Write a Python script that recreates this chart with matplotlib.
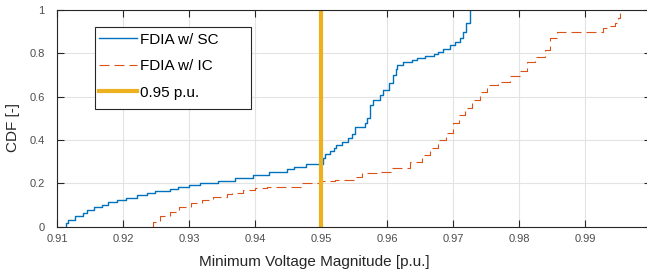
import matplotlib
matplotlib.use('Agg')
import matplotlib.pyplot as plt
from matplotlib.patches import Rectangle

plt.rcParams['font.family'] = ['Liberation Sans', 'DejaVu Sans']

sc_v = [0.9113, 0.9113, 0.9116, 0.9127, 0.9139, 0.9145, 0.9155, 0.9167, 0.9177,
        0.9190, 0.9204, 0.9220, 0.9236, 0.9248, 0.9271, 0.9283, 0.9299, 0.9316,
        0.9344, 0.9369, 0.9397, 0.9421, 0.9448, 0.9459, 0.9477, 0.9503, 0.9505,
        0.9513, 0.9519, 0.9523, 0.9531, 0.9541, 0.9546, 0.9551, 0.9566, 0.9569,
        0.9574, 0.9579, 0.9589, 0.9594, 0.9602, 0.9609, 0.9613, 0.9615, 0.9624,
        0.9637, 0.9645, 0.9657, 0.9670, 0.9677, 0.9685, 0.9695, 0.9703, 0.9710,
        0.9715, 0.9719, 0.9725]
sc_cdf = [0.0, 0.016, 0.031, 0.051, 0.062, 0.076, 0.092, 0.100, 0.113,
          0.123, 0.134, 0.145, 0.157, 0.166, 0.175, 0.185, 0.192, 0.200,
          0.211, 0.226, 0.239, 0.254, 0.266, 0.274, 0.291, 0.316, 0.334,
          0.351, 0.362, 0.377, 0.392, 0.411, 0.430, 0.459, 0.480, 0.500,
          0.562, 0.585, 0.608, 0.631, 0.662, 0.700, 0.730, 0.746, 0.761,
          0.769, 0.777, 0.788, 0.795, 0.808, 0.820, 0.838, 0.854, 0.869,
          0.900, 0.938, 1.0]

ic_v = [0.9242, 0.9245, 0.9256, 0.9271, 0.9284, 0.9303, 0.9319, 0.9336, 0.9357,
        0.9364, 0.9382, 0.9400, 0.9417, 0.9470, 0.9498, 0.9521, 0.9549, 0.9561,
        0.9587, 0.9607, 0.9634, 0.9652, 0.9665, 0.9677, 0.9689, 0.9700, 0.9708,
        0.9718, 0.9728, 0.9741, 0.9751, 0.9768, 0.9786, 0.9801, 0.9812, 0.9824,
        0.9839, 0.9847, 0.9857, 0.9922, 0.9927, 0.9937, 0.9945, 0.9949, 0.9953]
ic_cdf = [0.0, 0.023, 0.049, 0.069, 0.089, 0.108, 0.123, 0.136, 0.151,
          0.157, 0.168, 0.177, 0.185, 0.200, 0.212, 0.215, 0.231, 0.246,
          0.254, 0.269, 0.300, 0.331, 0.362, 0.400, 0.431, 0.477, 0.515,
          0.546, 0.585, 0.623, 0.654, 0.669, 0.695, 0.718, 0.758, 0.785,
          0.815, 0.869, 0.900, 0.900, 0.915, 0.926, 0.938, 0.962, 0.985]

threshold = 0.95

x_ticks = [0.91, 0.92, 0.93, 0.94, 0.95, 0.96, 0.97, 0.98, 0.99, 1.0]
x_labels = ['0.91', '0.92', '0.93', '0.94', '0.95', '0.96', '0.97', '0.98', '0.99', '1']
y_ticks = [0, 0.2, 0.4, 0.6, 0.8, 1]
y_labels = ['0', '0.2', '0.4', '0.6', '0.8', '1']

fig = plt.figure(figsize=(6.47, 2.73), dpi=100)
# axes runs a bit past the right edge of the image, as in the reference
ax = fig.add_axes([57.3 / 647, 46.3 / 273, 594 / 647, 216.7 / 273])

ax.step(sc_v, sc_cdf, where='post', color='#0072BD', lw=1.0, label='FDIA w/ SC')
ax.step(ic_v, ic_cdf, where='post', color='#D95319', lw=0.8,
        dashes=(9, 4.5), label='FDIA w/ IC')
ax.axvline(threshold, color='#EDB120', lw=3, label='0.95 p.u.')

ax.set_xlim(0.91, 1.0)
ax.set_ylim(0, 1)
ax.set_xticks(x_ticks)
ax.set_xticklabels(x_labels)
ax.set_yticks(y_ticks)
ax.set_yticklabels(y_labels)

ax.grid(True, color='#e3e3e3', lw=0.8)
ax.set_axisbelow(True)
for s in ax.spines.values():
    s.set_color('#262626')
    s.set_linewidth(0.8)
ax.tick_params(direction='in', length=5, width=0.8, colors='#262626',
               labelsize=8, labelcolor='#4d4d4d', top=True, right=True)
ax.tick_params(axis='x', pad=5)
ax.tick_params(axis='y', pad=9)

ax.set_xlabel('Minimum Voltage Magnitude [p.u.]', fontsize=11, color='#262626')
ax.xaxis.label.set_va('center')
ax.xaxis.set_label_coords(0.433, -0.161)
ax.set_ylabel('CDF [-]', fontsize=11, color='#262626')
ax.yaxis.label.set_va('center')
ax.yaxis.set_label_coords(-0.0745, 0.458)

# legend entries without frame, the box is drawn separately (wider, MATLAB style)
leg = ax.legend(loc='upper left', bbox_to_anchor=(0.0702, 0.896), fontsize=11,
                frameon=False, handlelength=2.5, handletextpad=0.2,
                labelspacing=0.82, borderpad=0, borderaxespad=0)
ax.add_patch(Rectangle((0.0635, 0.5418), 0.3256 - 0.0635, 0.922 - 0.5418,
                       transform=ax.transAxes, facecolor='white',
                       edgecolor='#262626', lw=0.8, zorder=4))
leg.set_zorder(5)

fig.savefig('out.png', dpi=100)
